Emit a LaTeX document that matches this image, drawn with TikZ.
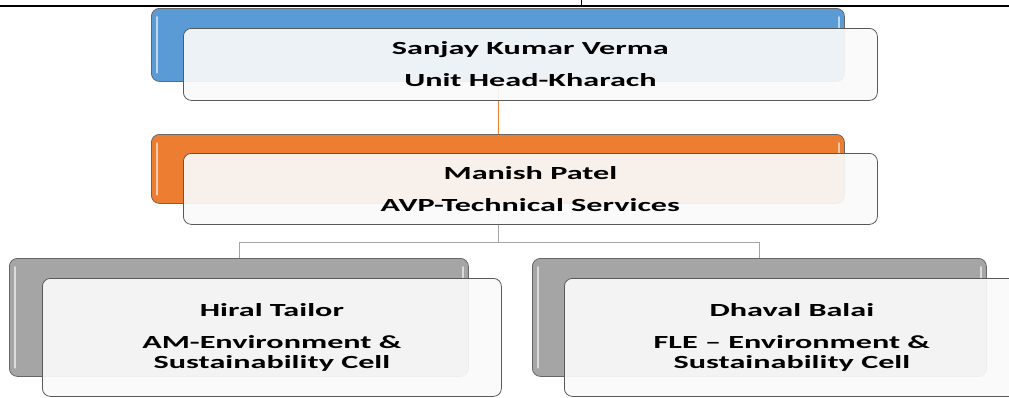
\documentclass[tikz,border=0pt]{standalone}
\usepackage{fontspec}
\newfontfamily\orgfont[FakeStretch=1.74]{Carlito}
\usetikzlibrary{positioning}

\definecolor{headblue}{HTML}{5B9BD5}
\definecolor{headorange}{HTML}{ED7D31}
\definecolor{headgray}{HTML}{A5A5A5}

\begin{document}
\begin{tikzpicture}[x=1pt,y=-1pt,
    backbox/.style={draw=black!60, line width=0.8pt, rounded corners=8pt,
      anchor=north west, inner sep=0pt},
    frontbox/.style={draw=black!65, line width=0.8pt, rounded corners=8pt,
      anchor=north west, inner sep=0pt, fill=black!2, fill opacity=0.92,
      text opacity=1, align=center,
      font=\orgfont\bfseries\fontsize{18.5}{20}\selectfont},
    gloss/.style={white, line width=1.6pt, line cap=round, opacity=0.6},
    link/.style={line width=0.8pt}]
    \useasboundingbox (0,0) rectangle (1009,397);

    % Draw the page rules at the top
    \draw[line width=1.5pt] (0,6) -- (1009,6);
    \draw[line width=0.8pt] (581,0) -- (581,6);

    % Draw the coloured back boxes
    \node[backbox, fill=headblue, minimum width=693pt, minimum height=73pt] (topback) at (151,8) {};
    \node[backbox, fill=headorange, minimum width=693pt, minimum height=69pt] (midback) at (151,134) {};
    \node[backbox, fill=headgray, minimum width=459pt, minimum height=118pt] (leftback) at (9,258) {};
    \node[backbox, fill=headgray, minimum width=454pt, minimum height=118pt] (rightback) at (532,258) {};

    % Glossy edges of the back boxes
    \foreach \b in {topback,midback,leftback,rightback} {
        \draw[gloss] ([xshift=6pt,yshift=-9pt]\b.north west) -- ([xshift=6pt,yshift=9pt]\b.south west);
        \draw[gloss] ([xshift=-6pt,yshift=-9pt]\b.north east) -- ([xshift=-6pt,yshift=-22pt]\b.north east);
      }

    % Draw the connectors
    \draw[link, headorange] (topback.south) -- (midback.north);
    \draw[link, headgray] (midback.south) -- ++(0,39) coordinate (split);
    \draw[link, headgray] (split) -| (leftback.north);
    \draw[link, headgray] (split) -| (rightback.north);

    % Draw the front boxes with the names
    \node[frontbox, minimum width=694pt, minimum height=72pt] (topfront) at (183,28)
      {Sanjay Kumar Verma\\[12pt]Unit Head-Kharach};
    \node[frontbox, minimum width=694pt, minimum height=71pt] (midfront) at (183,153)
      {Manish Patel\\[12pt]AVP-Technical Services};
    \node[frontbox, minimum width=459pt, minimum height=118pt] (leftfront) at (42,278)
      {Hiral Tailor\\[12pt]AM-Environment \&\\Sustainability Cell};
    \node[frontbox, minimum width=455pt, minimum height=118pt] (rightfront) at (564,278)
      {Dhaval Balai\\[12pt]FLE – Environment \&\\Sustainability Cell};
  \end{tikzpicture}
\end{document}
